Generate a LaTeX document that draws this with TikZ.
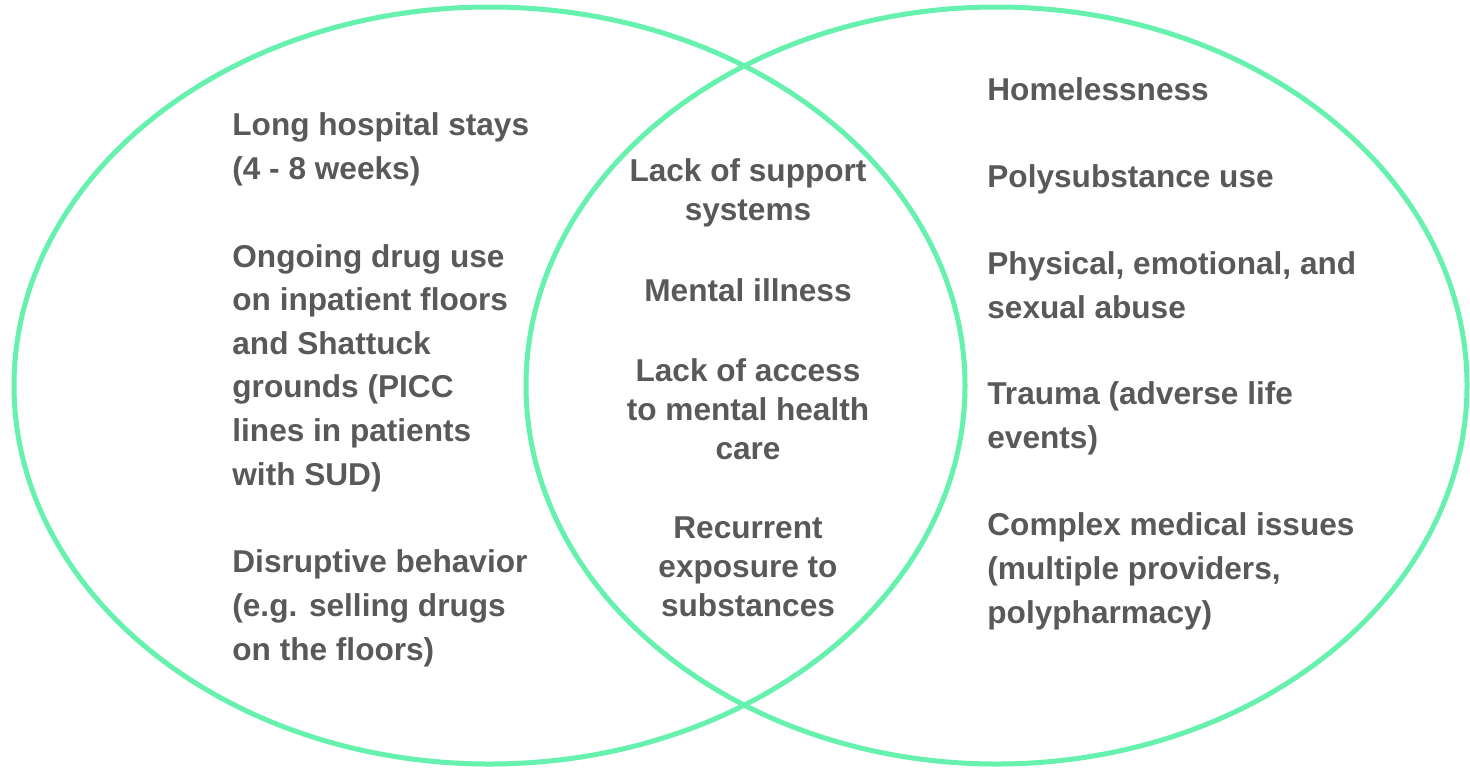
\documentclass[tikz,border=0pt]{standalone}
\usepackage{fontspec}
\setmainfont{Liberation Sans}
\usepackage{xcolor}

\definecolor{venngreen}{HTML}{66F2AE}
\definecolor{venngray}{HTML}{595959}

\tikzset{
  factor/.style={anchor=base west, align=left, inner sep=0pt, text=venngray,
    font=\bfseries\fontsize{15.8}{21.8}\selectfont},
  shared/.style={factor, anchor=base, align=center,
    font=\bfseries\fontsize{15.8}{19.3}\selectfont},
}

\begin{document}
\begin{tikzpicture}[x=0.5pt, y=-0.5pt]
                \useasboundingbox (0,0) rectangle (1470,767);

                % the two sets
                \draw[venngreen, line width=2.5pt] (489.5,385.5) ellipse [x radius=475.5, y radius=378.5];
                \draw[venngreen, line width=2.5pt] (996.5,385.5) ellipse [x radius=470.5, y radius=378.5];

                % left set (placed at the baseline of the last line)
                \node[factor] (stays) at (232,179) {Long hospital stays\\(4 - 8 weeks)};
                \node[factor] (druguse) at (232,485) {Ongoing drug use\\on inpatient floors\\and Shattuck\\grounds (PICC\\lines in patients\\with SUD)};
                \node[factor] (behavior) at (232,660) {Disruptive behavior\\(e.g. selling drugs\\on the floors)};

                % overlap
                \node[shared] (support) at (748,220) {Lack of support\\systems};
                \node[shared] (illness) at (748,301) {Mental illness};
                \node[shared] (access) at (748,459) {Lack of access\\to mental health\\care};
                \node[shared] (exposure) at (748,616) {Recurrent\\exposure to\\substances};

                % right set
                \node[factor] (homeless) at (987,100) {Homelessness};
                \node[factor] (poly) at (987,187) {Polysubstance use};
                \node[factor] (abuse) at (987,318) {Physical, emotional, and\\sexual abuse};
                \node[factor] (trauma) at (987,448) {Trauma (adverse life\\events)};
                \node[factor] (medical) at (987,623) {Complex medical issues\\(multiple providers,\\polypharmacy)};
            \end{tikzpicture}
\end{document}
